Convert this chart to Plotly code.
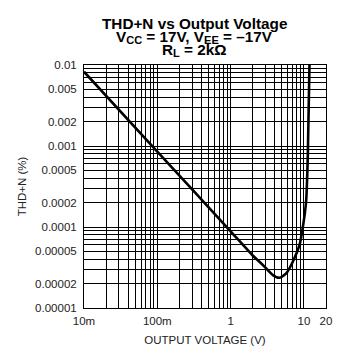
import plotly.graph_objects as go

# Data
volts = [0.01, 0.1, 1, 2, 2.75, 3.77, 4.65, 5.73, 7.05, 8.7, 9.6, 10.7, 11.3, 11.9]
thdn = [8.26e-3, 8.55e-4, 8.85e-5, 4.45e-5, 3.4e-5, 2.55e-5, 2.36e-5, 2.68e-5,
        3.73e-5, 6.0e-5, 9.6e-5, 2.05e-4, 7.7e-4, 1.0e-2]

x_tickvals = [0.01, 0.1, 1, 10, 20]
x_ticktext = ["10m", "100m", "1", "10", "20"]
y_tickvals = [0.01, 0.005, 0.002, 0.001, 0.0005, 0.0002, 0.0001, 0.00005, 0.00002, 0.00001]
y_ticktext = ["0.01", "0.005", "0.002", "0.001", "0.0005", "0.0002", "0.0001",
              "0.00005", "0.00002", "0.00001"]

x_minor = [m * d for d in (0.01, 0.1, 1, 10) for m in range(1, 10)] + [20]
y_minor = [m * d for d in (1e-5, 1e-4, 1e-3) for m in range(1, 10)] + [1e-2]

fig = go.Figure()
fig.add_trace(go.Scatter(x=volts, y=thdn, mode="lines",
                         line=dict(color="black", width=2.6, shape="spline", smoothing=0.6),
                         showlegend=False, cliponaxis=True))

axis_font = dict(family="Liberation Sans, Arial, sans-serif", size=11.5, color="#222")
fig.update_xaxes(type="log", range=[-2, 1.30103],
                 tickmode="array", tickvals=x_tickvals, ticktext=x_ticktext,
                 showgrid=True, gridcolor="black", gridwidth=1,
                 minor=dict(tickmode="array", tickvals=x_minor, showgrid=True,
                            gridcolor="black", gridwidth=1, ticks=""),
                 showline=True, linecolor="black", linewidth=1, mirror=True,
                 ticks="", tickfont=axis_font, ticklabelstandoff=2,
                 title=dict(text="OUTPUT VOLTAGE (V)", font=axis_font, standoff=10),
                 zeroline=False)
fig.update_yaxes(type="log", range=[-5, -2],
                 tickmode="array", tickvals=y_tickvals, ticktext=y_ticktext,
                 showgrid=True, gridcolor="black", gridwidth=1,
                 minor=dict(tickmode="array", tickvals=y_minor, showgrid=True,
                            gridcolor="black", gridwidth=1, ticks=""),
                 showline=True, linecolor="black", linewidth=1, mirror=True,
                 ticks="", tickfont=axis_font, ticklabelstandoff=4,
                 title=dict(text="THD+N (%)", font=axis_font, standoff=6),
                 zeroline=False)

title_font = dict(family="Liberation Sans, Arial, sans-serif", size=15.3, color="black")
sub = '<span style="font-size:11px;baseline-shift:-2px">%s</span>'
h = 243.0
lines = [("<b>THD+N vs Output Voltage</b>", 23.6),
         ("<b>V" + sub % "CC" + " = 17V, V" + sub % "EE" + " = –17V</b>", 36.6),
         ("<b>R" + sub % "L" + " = 2kΩ</b>", 50.0)]
for txt, cy in lines:
    fig.add_annotation(text=txt, xref="paper", yref="paper",
                       x=(194 - 84) / 242.0, y=1 + (65 - cy) / h,
                       xanchor="center", yanchor="middle", showarrow=False,
                       font=title_font)

# page body has an 8px margin, so the figure is 8px smaller and shifted
fig.update_layout(width=354, height=353,
                  margin=dict(l=76, r=36, t=57, b=53, autoexpand=False),
                  paper_bgcolor="white", plot_bgcolor="white")

fig.write_html("out.html")
